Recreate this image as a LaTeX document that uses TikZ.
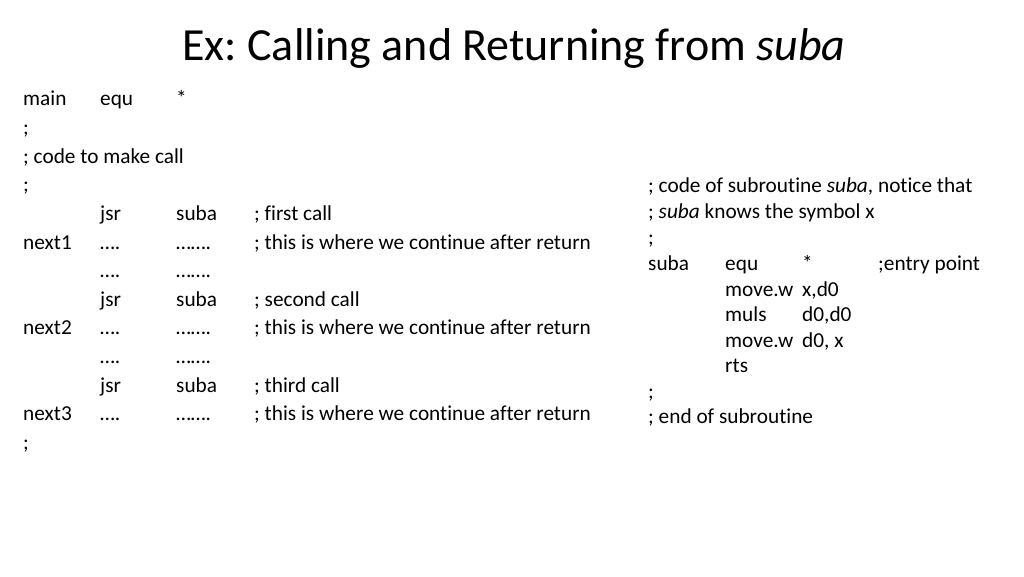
\documentclass[tikz,border=0pt]{standalone}
\usepackage{fontspec}
\setmainfont{Carlito}[Ligatures=NoCommon]
\begin{document}
\begin{tikzpicture}[x=1pt,y=-1pt,
  t/.style={anchor=base west,inner sep=0pt,font=\fontsize{21.3}{24}\selectfont}]
\useasboundingbox (0,0) rectangle (1024,576);
\node[anchor=base,inner sep=0pt,font=\fontsize{46}{52}\selectfont] (title) at (514,60) {Ex:\ Calling and Returning from \textit{suba}};
% left column
\node[t] (a1) at (23,105) {main}; \node[t] (a2) at (100,105) {equ}; \node[t] (a3) at (176,105) {*};
\node[t] (b1) at (23,134) {;};
\node[t] (c1) at (23,163) {; code to make call};
\node[t] (d1) at (23,191) {;};
\node[t] (e2) at (100,220) {jsr}; \node[t] (e3) at (176,220) {suba}; \node[t] (e4) at (254,220) {; first call};
\node[t] (f1) at (23,249) {next1}; \node[t] (f2) at (100,249) {….}; \node[t] (f3) at (176,249) {…….}; \node[t] (f4) at (254,249) {; this is where we continue after return};
\node[t] (g2) at (100,277) {….}; \node[t] (g3) at (176,277) {…….};
\node[t] (h2) at (100,306) {jsr}; \node[t] (h3) at (176,306) {suba}; \node[t] (h4) at (254,306) {; second call};
\node[t] (i1) at (23,334) {next2}; \node[t] (i2) at (100,334) {….}; \node[t] (i3) at (176,334) {…….}; \node[t] (i4) at (254,334) {; this is where we continue after return};
\node[t] (j2) at (100,363) {….}; \node[t] (j3) at (176,363) {…….};
\node[t] (k2) at (100,392) {jsr}; \node[t] (k3) at (176,392) {suba}; \node[t] (k4) at (254,392) {; third call};
\node[t] (l1) at (23,420) {next3}; \node[t] (l2) at (100,420) {….}; \node[t] (l3) at (176,420) {…….}; \node[t] (l4) at (254,420) {; this is where we continue after return};
\node[t] (m1) at (23,449) {;};
% right column
\node[t] (r1) at (648,192) {; code of subroutine \textit{suba}, notice that};
\node[t] (r2) at (648,218) {; \textit{suba} knows the symbol x};
\node[t] (r3) at (648,244) {;};
\node[t] (r4a) at (648,270) {suba}; \node[t] (r4b) at (725,270) {equ}; \node[t] (r4c) at (802,270) {*}; \node[t] (r4d) at (878,270) {;entry point};
\node[t] (r5b) at (725,296) {move.w}; \node[t] (r5c) at (802,296) {x,d0};
\node[t] (r6b) at (725,321) {muls}; \node[t] (r6c) at (802,321) {d0,d0};
\node[t] (r7b) at (725,347) {move.w}; \node[t] (r7c) at (802,347) {d0, x};
\node[t] (r8b) at (725,372) {rts};
\node[t] (r9) at (648,398) {;};
\node[t] (r10) at (648,423) {; end of subroutine};
\end{tikzpicture}
\end{document}
